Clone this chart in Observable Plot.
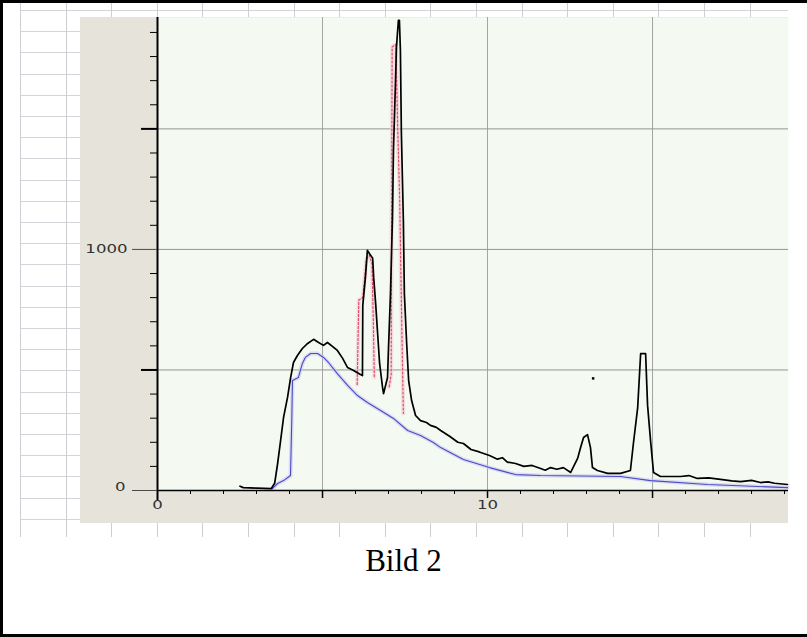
<!DOCTYPE html>
<html>
<head>
<meta charset="utf-8">
<script src="https://cdn.jsdelivr.net/npm/d3@7"></script>
<script src="https://cdn.jsdelivr.net/npm/@observablehq/plot@0.6"></script>
<style>
  html, body { margin: 0; padding: 0; background: #fff; }
  #page { position: relative; width: 807px; height: 637px; overflow: hidden; background: #fff; }
  #frame { position: absolute; left: 0; top: 0; width: 900px; height: 631px; border: 3px solid #000; box-sizing: content-box; }
  #sheet { position: absolute; left: 20px; top: 3px; width: 768px; height: 534px;
    background-image:
      repeating-linear-gradient(to right, #cdcdd4 0 1px, transparent 1px 45.6px),
      repeating-linear-gradient(to bottom, transparent 0 7px, #d3d3d9 7px 8px, transparent 8px 21.2px); }
  #chart { position: absolute; left: 80px; top: 17px; }
  #caption { position: absolute; left: 0; top: 543px; width: 807px; text-align: center;
    font-family: "Liberation Serif", "Times New Roman", serif; font-size: 31px; color: #000; }
</style>
</head>
<body>
<div id="page">
  <div id="frame"></div>
  <div id="sheet"></div>
  <div id="chart"></div>
  <div id="caption">Bild 2</div>
</div>
<script>
// ---- data ----
const blackTime = [2.50,2.60,3.00,3.45,3.55,3.64,3.73,3.82,3.94,4.03,4.12,4.24,4.39,4.55,4.73,4.88,5.03,5.15,5.30,5.45,5.61,5.76,5.94,6.15,6.21,6.22,6.30,6.36,6.42,6.52,6.55,6.61,6.67,6.73,6.82,6.85,6.97,7.00,7.06,7.12,7.15,7.21,7.24,7.30,7.33,7.36,7.39,7.45,7.48,7.55,7.61,7.70,7.82,7.97,8.15,8.27,8.45,8.58,8.85,9.10,9.27,9.50,9.75,10.06,10.30,10.45,10.60,10.85,11.10,11.35,11.61,11.75,11.91,12.10,12.30,12.52,12.73,12.82,12.91,13.03,13.12,13.18,13.33,13.64,14.03,14.33,14.42,14.55,14.64,14.79,14.85,14.94,15.03,15.24,15.85,16.10,16.36,16.70,17.06,17.40,17.67,18.00,18.27,18.50,18.70,19.09];
const blackSignal = [18,12,10,8,30,112,207,303,386,465,531,560,589,610,627,614,602,614,598,581,548,510,498,481,477,768,884,996,983,963,884,776,651,527,427,402,469,593,817,1133,1411,1689,1838,1950,1950,1826,1481,1120,817,610,456,373,311,290,282,270,262,249,225,200,195,170,160,145,130,136,118,112,100,104,91,84,95,88,95,75,133,178,220,232,178,95,83,71,71,83,195,344,568,568,353,207,75,58,58,62,50,52,46,40,37,42,33,36,30,25];

const blueTime = [3.48,3.64,3.82,4.03,4.07,4.09,4.27,4.39,4.48,4.64,4.85,5.03,5.18,5.45,5.76,6.06,6.36,6.76,7.15,7.58,7.97,8.36,8.58,9.27,10.06,10.85,11.61,12.80,14.03,14.94,16.67,19.09];
const blueSignal = [8,29,41,62,300,456,469,527,552,568,568,552,531,485,436,394,365,332,299,249,228,199,178,129,95,66,62,60,58,41,25,12];

const redSegment = ["a","a","a","a","a","a","a","a","b","b","b","b","b","b","b","b"];
const redTime = [6.05,6.10,6.22,6.33,6.42,6.50,6.54,6.57,7.02,7.08,7.11,7.22,7.28,7.34,7.40,7.45];
const redSignal = [440,790,800,960,975,940,700,470,430,480,1840,1850,1500,1200,700,320];

const markTime = [13.2];
const markSignal = [465];

const xDomain = [0, 19.12];
const yDomain = [0, 1962];
const xGrid = [5, 10, 15];
const yGrid = [500, 1000, 1500];
const xMinorTicks = [1,2,3,4,6,7,8,9,11,12,13,14,16,17,18,19];
const xMajorTicks = [5, 10, 15];
const xTickLabels = [0, 10];
const yMinorTicks = [100,200,300,400,600,700,800,900,1100,1200,1300,1400,1600,1700,1800,1900];
const yMidTicks = [500, 1500];
const yMajorTicks = [0, 1000];
const yTickLabels = [1000];
const yZeroLabel = [0];

const black = blackTime.map((t, i) => ({t, v: blackSignal[i]}));
const blue = blueTime.map((t, i) => ({t, v: blueSignal[i]}));
const red = redTime.map((t, i) => ({t, v: redSignal[i], s: redSegment[i]}));
const marks = markTime.map((t, i) => ({t, v: markSignal[i]}));

const chart = Plot.plot({
  width: 708,
  height: 506,
  marginLeft: 77,
  marginRight: 0,
  marginTop: 0,
  marginBottom: 33,
  x: {domain: xDomain, axis: null},
  y: {domain: yDomain, axis: null},
  style: {background: "#e6e4da", fontFamily: "DejaVu Sans, sans-serif", fontSize: "12px", overflow: "visible"},
  marks: [
    Plot.frame({fill: "#f4f9f1", stroke: "none"}),
    Plot.ruleX(xGrid, {stroke: "#a4a4a4", strokeWidth: 1}),
    Plot.ruleY(yGrid, {stroke: "#959595", strokeWidth: 1}),
    Plot.line(blue, {x: "t", y: "v", stroke: "#c9c9ee", strokeWidth: 4, strokeOpacity: 0.6}),
    Plot.line(blue, {x: "t", y: "v", stroke: "#4a4ac8", strokeWidth: 1.1}),
    Plot.line(red, {x: "t", y: "v", z: "s", stroke: "#f3c9d2", strokeWidth: 4, strokeOpacity: 0.6}),
    Plot.line(red, {x: "t", y: "v", z: "s", stroke: "#d9506a", strokeWidth: 1.2, strokeDasharray: "2,2"}),
    Plot.line(black, {x: "t", y: "v", stroke: "#000", strokeWidth: 1.7}),
    Plot.dot(marks, {x: "t", y: "v", r: 1.4, fill: "#000", stroke: "none", symbol: "square"}),
    // axes
    Plot.ruleY([0], {stroke: "#000", strokeWidth: 1.5}),
    Plot.ruleX([0], {stroke: "#000", strokeWidth: 2, insetBottom: -10}),
    Plot.ruleY(yMinorTicks, {y: d => d, x1: 0, x2: 0, insetLeft: -7, stroke: "#000", strokeWidth: 1}),
    Plot.ruleY(yMidTicks, {y: d => d, x1: 0, x2: 0, insetLeft: -16, stroke: "#000", strokeWidth: 2}),
    Plot.ruleY(yMajorTicks, {y: d => d, x1: 0, x2: 0, insetLeft: -25, stroke: "#4a4a4a", strokeWidth: 1}),
    Plot.ruleX(xMinorTicks, {x: d => d, y1: 0, y2: 0, insetBottom: -4, stroke: "#000", strokeWidth: 1}),
    Plot.ruleX(xMajorTicks, {x: d => d, y1: 0, y2: 0, insetBottom: -8, stroke: "#000", strokeWidth: 1.5}),
    Plot.text(yTickLabels, {x: 0, y: d => d, text: d => String(d), textAnchor: "end", dx: -30, fill: "#333"}),
    Plot.text(yZeroLabel, {x: 0, y: d => d, text: d => String(d), textAnchor: "end", dx: -32, dy: -3, fill: "#333"}),
    Plot.text(xTickLabels, {x: d => d, y: 0, text: d => String(d), dy: 15, fill: "#333"})
  ]
});
document.getElementById("chart").appendChild(chart);

// stretch tick labels horizontally like the original wide pixel font
chart.querySelectorAll("text").forEach(t => {
  const b = t.getBBox();
  const anchor = t.getAttribute("text-anchor") || getComputedStyle(t).textAnchor;
  const ax = anchor === "end" ? b.x + b.width : anchor === "start" ? b.x : b.x + b.width / 2;
  const prev = t.getAttribute("transform") || "";
  t.setAttribute("transform", `${prev} translate(${ax},0) scale(1.38,1) translate(${-ax},0)`);
});
</script>
</body>
</html>
